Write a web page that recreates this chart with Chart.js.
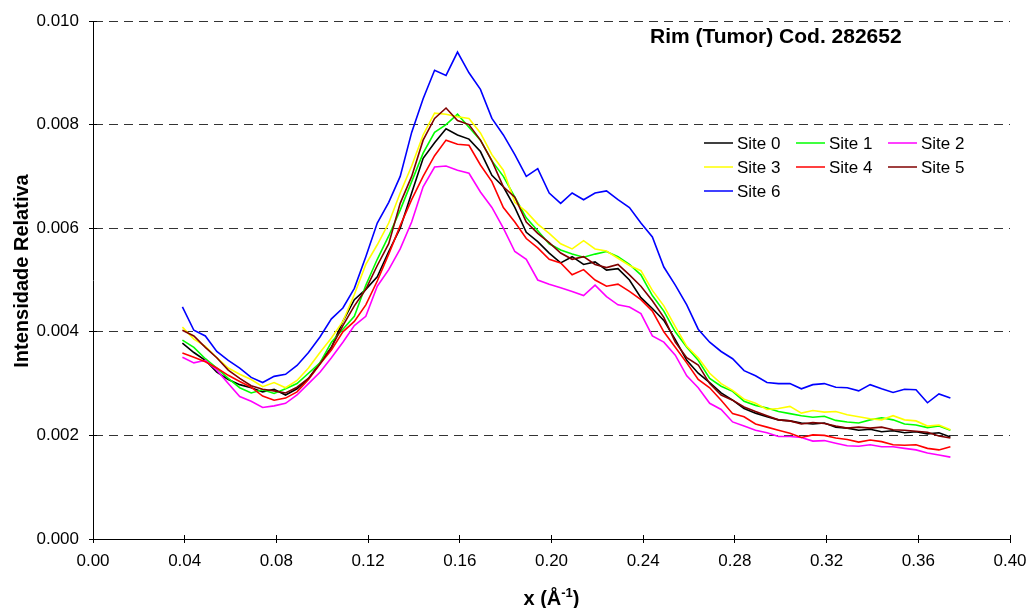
<!DOCTYPE html>
<html>
<head>
<meta charset="utf-8">
<script src="https://cdn.jsdelivr.net/npm/chart.js@4/dist/chart.umd.min.js"></script>
<style>
  html, body { margin: 0; padding: 0; background: #fff; }
  #wrap { width: 1030px; height: 608px; position: relative; }
</style>
</head>
<body>
<div id="wrap"><canvas id="grafico"></canvas></div>
<script>
// --- DADOS ---

// Eixo x (Å^-1)
const xValores = [
  0.039, 0.044, 0.049, 0.054, 0.059, 0.064, 0.069, 0.074, 0.079, 0.084,
  0.089, 0.094, 0.099, 0.104, 0.109, 0.114, 0.119, 0.124, 0.129, 0.134,
  0.139, 0.144, 0.149, 0.154, 0.159, 0.164, 0.169, 0.174, 0.179, 0.184,
  0.189, 0.194, 0.199, 0.204, 0.209, 0.214, 0.219, 0.224, 0.229, 0.234,
  0.239, 0.244, 0.249, 0.254, 0.259, 0.264, 0.269, 0.274, 0.279, 0.284,
  0.289, 0.294, 0.299, 0.304, 0.309, 0.314, 0.319, 0.324, 0.329, 0.334,
  0.339, 0.344, 0.349, 0.354, 0.359, 0.364, 0.369, 0.374
];

const site0 = [
  0.00378, 0.00360, 0.00345, 0.00322, 0.00308, 0.00298, 0.00292, 0.00284, 0.00289, 0.00278,
  0.00290, 0.00310, 0.00340, 0.00370, 0.00420, 0.00462, 0.00482, 0.00506, 0.00555, 0.00600,
  0.00668, 0.00735, 0.00765, 0.00792, 0.00780, 0.00772, 0.00748, 0.00702, 0.00680, 0.00640,
  0.00592, 0.00574, 0.00552, 0.00533, 0.00545, 0.00530, 0.00535, 0.00519, 0.00522, 0.00500,
  0.00466, 0.00445, 0.00422, 0.00385, 0.00345, 0.00320, 0.00302, 0.00282, 0.00268, 0.00252,
  0.00243, 0.00236, 0.00230, 0.00228, 0.00224, 0.00222, 0.00224, 0.00216, 0.00214, 0.00210,
  0.00212, 0.00207, 0.00209, 0.00205, 0.00207, 0.00203, 0.00205, 0.00197
];

const site1 = [
  0.00384, 0.00370, 0.00348, 0.00330, 0.00310, 0.00292, 0.00282, 0.00288, 0.00281, 0.00290,
  0.00300, 0.00320, 0.00340, 0.00380, 0.00405, 0.00430, 0.00490, 0.00540, 0.00585, 0.00635,
  0.00690, 0.00745, 0.00785, 0.00800, 0.00820, 0.00795, 0.00770, 0.00730, 0.00700, 0.00660,
  0.00620, 0.00595, 0.00570, 0.00558, 0.00550, 0.00544, 0.00550, 0.00555, 0.00545, 0.00530,
  0.00510, 0.00470, 0.00440, 0.00400, 0.00370, 0.00345, 0.00310, 0.00295, 0.00285, 0.00266,
  0.00258, 0.00253, 0.00246, 0.00242, 0.00238, 0.00235, 0.00237, 0.00229, 0.00226, 0.00224,
  0.00230, 0.00234, 0.00230, 0.00222, 0.00220, 0.00215, 0.00218, 0.00210
];

const site2 = [
  0.00351, 0.00340, 0.00345, 0.00326, 0.00300, 0.00275, 0.00266, 0.00254, 0.00257, 0.00262,
  0.00278, 0.00300, 0.00322, 0.00350, 0.00380, 0.00412, 0.00430, 0.00488, 0.00520, 0.00560,
  0.00612, 0.00680, 0.00718, 0.00720, 0.00712, 0.00706, 0.00670, 0.00640, 0.00600, 0.00555,
  0.00540, 0.00500, 0.00492, 0.00485, 0.00478, 0.00470, 0.00490, 0.00468, 0.00452, 0.00448,
  0.00435, 0.00392, 0.00380, 0.00355, 0.00315, 0.00292, 0.00262, 0.00250, 0.00226, 0.00218,
  0.00210, 0.00205, 0.00198, 0.00198, 0.00196, 0.00189, 0.00190, 0.00185, 0.00180, 0.00179,
  0.00182, 0.00178, 0.00178, 0.00175, 0.00172, 0.00166, 0.00162, 0.00158
];

const site3 = [
  0.00409, 0.00386, 0.00372, 0.00350, 0.00330, 0.00318, 0.00308, 0.00294, 0.00302, 0.00292,
  0.00306, 0.00330, 0.00360, 0.00388, 0.00420, 0.00472, 0.00530, 0.00568, 0.00610, 0.00668,
  0.00720, 0.00780, 0.00822, 0.00820, 0.00815, 0.00812, 0.00784, 0.00742, 0.00712, 0.00650,
  0.00632, 0.00608, 0.00590, 0.00570, 0.00560, 0.00576, 0.00560, 0.00556, 0.00542, 0.00528,
  0.00518, 0.00480, 0.00450, 0.00410, 0.00372, 0.00350, 0.00320, 0.00300, 0.00287, 0.00270,
  0.00262, 0.00250, 0.00252, 0.00256, 0.00243, 0.00248, 0.00245, 0.00246, 0.00240, 0.00236,
  0.00232, 0.00230, 0.00238, 0.00230, 0.00228, 0.00218, 0.00220, 0.00211
];

const site4 = [
  0.00359, 0.00351, 0.00342, 0.00330, 0.00316, 0.00304, 0.00293, 0.00276, 0.00268, 0.00272,
  0.00284, 0.00308, 0.00338, 0.00365, 0.00400, 0.00420, 0.00452, 0.00498, 0.00550, 0.00605,
  0.00655, 0.00700, 0.00740, 0.00770, 0.00762, 0.00760, 0.00722, 0.00690, 0.00640, 0.00612,
  0.00580, 0.00562, 0.00540, 0.00533, 0.00510, 0.00520, 0.00500, 0.00488, 0.00492, 0.00478,
  0.00462, 0.00440, 0.00400, 0.00370, 0.00340, 0.00308, 0.00292, 0.00268, 0.00242, 0.00236,
  0.00222, 0.00216, 0.00210, 0.00204, 0.00196, 0.00201, 0.00200, 0.00195, 0.00192, 0.00187,
  0.00191, 0.00188, 0.00182, 0.00181, 0.00182, 0.00175, 0.00172, 0.00178
];

const site5 = [
  0.00403, 0.00392, 0.00370, 0.00350, 0.00326, 0.00310, 0.00296, 0.00289, 0.00286, 0.00282,
  0.00293, 0.00310, 0.00338, 0.00370, 0.00412, 0.00450, 0.00482, 0.00528, 0.00570, 0.00648,
  0.00700, 0.00770, 0.00812, 0.00832, 0.00808, 0.00800, 0.00770, 0.00730, 0.00680, 0.00660,
  0.00612, 0.00590, 0.00572, 0.00552, 0.00540, 0.00545, 0.00530, 0.00524, 0.00530, 0.00510,
  0.00488, 0.00460, 0.00428, 0.00380, 0.00350, 0.00336, 0.00300, 0.00278, 0.00268, 0.00255,
  0.00246, 0.00238, 0.00230, 0.00228, 0.00222, 0.00225, 0.00223, 0.00218, 0.00214, 0.00216,
  0.00214, 0.00216, 0.00211, 0.00210, 0.00208, 0.00206, 0.00199, 0.00195
];

const site6 = [
  0.00448, 0.00403, 0.00392, 0.00362, 0.00345, 0.00330, 0.00312, 0.00302, 0.00314, 0.00318,
  0.00335, 0.00360, 0.00390, 0.00425, 0.00446, 0.00484, 0.00545, 0.00610, 0.00650, 0.00700,
  0.00785, 0.00850, 0.00905, 0.00895, 0.00940, 0.00900, 0.00868, 0.00812, 0.00780, 0.00742,
  0.00700, 0.00715, 0.00668, 0.00648, 0.00668, 0.00655, 0.00668, 0.00672, 0.00655, 0.00640,
  0.00610, 0.00583, 0.00525, 0.00490, 0.00452, 0.00405, 0.00380, 0.00362, 0.00348, 0.00325,
  0.00315, 0.00302, 0.00300, 0.00300, 0.00290, 0.00298, 0.00300, 0.00293, 0.00292, 0.00286,
  0.00298, 0.00290, 0.00283, 0.00289, 0.00288, 0.00263, 0.00280, 0.00272
];

const nomesSeries = ['Site 0', 'Site 1', 'Site 2', 'Site 3', 'Site 4', 'Site 5', 'Site 6'];
const series = [site0, site1, site2, site3, site4, site5, site6];
const coresSeries = ['#000000', '#00FF00', '#FF00FF', '#FFFF00', '#FF0000', '#800000', '#0000FF'];

// Marcas dos eixos
const xTicks = [0.00, 0.04, 0.08, 0.12, 0.16, 0.20, 0.24, 0.28, 0.32, 0.36, 0.40];
const yTicks = [0.000, 0.002, 0.004, 0.006, 0.008, 0.010];

const tituloGrafico = 'Rim (Tumor) Cod. 282652';
const tituloY = 'Intensidade Relativa';

const FONTE = '"Liberation Sans", Arial, Helvetica, sans-serif';

// --- PLUGIN: título, legenda interna, títulos dos eixos e marcas cruzadas ---
const decoracao = {
  id: 'decoracao',
  afterDraw(chart) {
    const { ctx, chartArea: a, scales: { x, y } } = chart;
    const alinha = p => Math.round(p - 0.5) + 0.5;
    ctx.save();

    // parte interna das marcas (tipo "cruzada")
    ctx.strokeStyle = '#000';
    ctx.lineWidth = 1;
    ctx.beginPath();
    xTicks.forEach(v => {
      const px = alinha(x.getPixelForValue(v));
      ctx.moveTo(px, a.bottom);
      ctx.lineTo(px, a.bottom - 4);
    });
    yTicks.forEach(v => {
      const py = alinha(y.getPixelForValue(v));
      ctx.moveTo(a.left, py);
      ctx.lineTo(a.left + 4, py);
    });
    ctx.stroke();

    ctx.fillStyle = '#000';

    // título dentro da área
    ctx.font = 'bold 21px ' + FONTE;
    ctx.textAlign = 'left';
    ctx.textBaseline = 'alphabetic';
    ctx.fillText(tituloGrafico, 650, 43);

    // legenda em 3 colunas
    ctx.font = '17px ' + FONTE;
    const colunas = [704, 796, 888];
    const linhas = [149, 173, 197];
    nomesSeries.forEach((nome, i) => {
      const cx = colunas[i % 3];
      const by = linhas[Math.floor(i / 3)];
      ctx.strokeStyle = coresSeries[i];
      ctx.lineWidth = 1.5;
      ctx.beginPath();
      ctx.moveTo(cx, by - 6);
      ctx.lineTo(cx + 29, by - 6);
      ctx.stroke();
      ctx.fillText(nome, cx + 33, by);
    });

    // título do eixo y
    ctx.font = 'bold 20px ' + FONTE;
    ctx.save();
    ctx.translate(28, 271);
    ctx.rotate(-Math.PI / 2);
    ctx.textAlign = 'center';
    ctx.fillText(tituloY, 0, 0);
    ctx.restore();

    // título do eixo x: x (Å^-1)
    const base = 605;
    const fGrande = 'bold 20px ' + FONTE;
    const fPeq = 'bold 13px ' + FONTE;
    ctx.font = fGrande;
    const w1 = ctx.measureText('x (Å').width;
    const w3 = ctx.measureText(')').width;
    ctx.font = fPeq;
    const w2 = ctx.measureText('-1').width;
    const centro = (a.left + a.right) / 2;
    let px = centro - (w1 + w2 + w3) / 2;
    ctx.textAlign = 'left';
    ctx.font = fGrande;
    ctx.fillText('x (Å', px, base);
    px += w1;
    ctx.font = fPeq;
    ctx.fillText('-1', px, base - 8);
    px += w2;
    ctx.font = fGrande;
    ctx.fillText(')', px, base);

    ctx.restore();
  }
};

// --- MONTAGEM DO GRÁFICO ---
const datasets = series.map((serie, i) => ({
  label: nomesSeries[i],
  data: xValores.map((xv, k) => ({ x: xv, y: serie[k] })),
  borderColor: coresSeries[i],
  backgroundColor: coresSeries[i],
  borderWidth: 1.6,
  pointRadius: 0,
  tension: 0,
  fill: false,
  order: series.length - 1 - i
}));

new Chart(document.getElementById('grafico'), {
  type: 'line',
  data: { datasets },
  options: {
    responsive: true,
    maintainAspectRatio: false,
    animation: false,
    devicePixelRatio: 1,
    layout: { padding: { left: 0, right: 20, top: 21, bottom: 0 } },
    plugins: {
      legend: { display: false },
      tooltip: { enabled: false },
      title: { display: false }
    },
    scales: {
      x: {
        type: 'linear',
        min: 0,
        max: 0.4,
        afterBuildTicks: s => { s.ticks = xTicks.map(v => ({ value: v })); },
        afterFit: s => { s.height = 69; s.paddingLeft = 0; s.paddingRight = 0; },
        ticks: {
          color: '#000',
          font: { family: FONTE, size: 17 },
          padding: 8,
          maxRotation: 0,
          callback: v => Number(v).toFixed(2)
        },
        grid: {
          drawOnChartArea: false,
          tickLength: 4,
          tickColor: '#000'
        },
        border: { display: true, color: '#000', width: 1 }
      },
      y: {
        type: 'linear',
        min: 0,
        max: 0.010,
        afterBuildTicks: s => { s.ticks = yTicks.map(v => ({ value: v })); },
        afterFit: s => { s.width = 93; s.paddingTop = 0; s.paddingBottom = 0; },
        ticks: {
          color: '#000',
          font: { family: FONTE, size: 17 },
          padding: 10,
          callback: v => Number(v).toFixed(3)
        },
        grid: {
          drawOnChartArea: true,
          color: c => (c.tick && c.tick.value === 0 ? 'rgba(0,0,0,0)' : '#333333'),
          tickLength: 4,
          tickColor: '#000',
          tickBorderDash: []
        },
        border: { display: true, color: '#000', width: 1, dash: [9, 6] }
      }
    }
  },
  plugins: [decoracao]
});
</script>
</body>
</html>
